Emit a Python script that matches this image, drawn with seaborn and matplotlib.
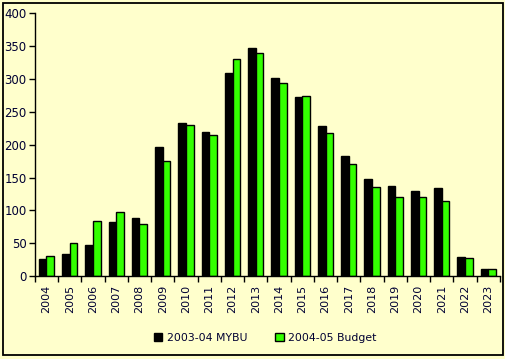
import numpy as np
import pandas as pd
import seaborn as sns
import matplotlib.pyplot as plt
from matplotlib.patches import Rectangle

# data
years = [str(y) for y in range(2004, 2024)]
mybu_2003_04 = [26, 33, 48, 82, 88, 197, 233, 219, 309, 347,
                302, 273, 229, 183, 148, 137, 130, 134, 29, 11]
budget_2004_05 = [30, 50, 84, 98, 80, 175, 230, 215, 330, 339,
                  294, 274, 218, 171, 135, 120, 120, 115, 27, 11]
series_names = ["2003-04 MYBU", "2004-05 Budget"]

df = pd.DataFrame({
    "year": years * 2,
    "value": mybu_2003_04 + budget_2004_05,
    "series": [series_names[0]] * len(years) + [series_names[1]] * len(years),
})

bg = "#ffffcc"
txt = "#000033"

sns.set_style("white")
plt.rcParams["font.family"] = ["DejaVu Sans"]

fig = plt.figure(figsize=(5.05, 3.59), dpi=100, facecolor=bg)
ax = fig.add_axes([0.069, 0.231, 0.921, 0.732])
ax.set_facecolor(bg)

sns.barplot(data=df, x="year", y="value", hue="series",
            palette=["#000000", "#33ff00"], saturation=1,
            edgecolor="black", linewidth=1, width=0.66, gap=0, ax=ax)

ax.set_xlim(-0.5, len(years) - 0.5)
ax.set_ylim(0, 400)
ax.set_yticks(np.arange(0, 401, 50))
ax.set_xlabel("")
ax.set_ylabel("")

# ticks between categories like the spreadsheet chart
ax.set_xticks(np.arange(-0.5, len(years), 1), minor=True)
ax.tick_params(axis="x", which="major", length=0, pad=6, labelrotation=90,
               labelsize=8, labelcolor=txt)
ax.tick_params(axis="x", which="minor", length=4, width=1, direction="out",
               color="black", bottom=True)
ax.tick_params(axis="y", length=4, width=1, direction="out", color="black",
               left=True, labelsize=8.5, labelcolor=txt, pad=2)

for side in ["top", "right"]:
    ax.spines[side].set_visible(False)
for side in ["left", "bottom"]:
    ax.spines[side].set_color("black")
    ax.spines[side].set_linewidth(1)

leg = ax.legend(loc="center", bbox_to_anchor=(0.495, -0.236), ncol=2,
                frameon=False, fontsize=7.8, handlelength=0.8, handleheight=0.8,
                columnspacing=2.6, handletextpad=0.4)
for t in leg.get_texts():
    t.set_color(txt)

# outer chart border
fig.patches.append(Rectangle((3 / 505, 4 / 359), 500 / 505, 352 / 359,
                             transform=fig.transFigure, fill=False,
                             edgecolor="black", linewidth=1.3))

fig.savefig("out.png", dpi=100, facecolor=bg)
